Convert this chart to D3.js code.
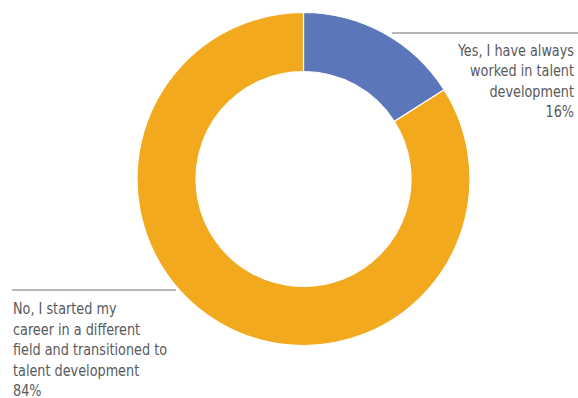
<!DOCTYPE html>
<html><head><meta charset="utf-8">
<script src="https://cdn.jsdelivr.net/npm/d3@7"></script>
<style>body{margin:0;background:#fff}svg{display:block}</style>
</head><body>
<svg id="chart" width="578" height="398"></svg>
<script>
const categories = ["Yes, I have always worked in talent development", "No, I started my career in a different field and transitioned to talent development"];
const values = [16, 84];
const colors = ["#5B77B9", "#F2A91E"];
const labelLines = [
  ["Yes, I have always", "worked in talent", "development", "16%"],
  ["No, I started my", "career in a different", "field and transitioned to", "talent development", "84%"]
];

const svg = d3.select("#chart");
const cx = 303.5, cy = 179, rOuter = 166.5, rInner = 107.5;
const pie = d3.pie().sort(null).value(d => d);
const arc = d3.arc().innerRadius(rInner).outerRadius(rOuter);
const g = svg.append("g").attr("transform", `translate(${cx},${cy})`);
g.selectAll("path").data(pie(values)).join("path")
  .attr("d", arc).attr("fill", (d, i) => colors[i])
  .attr("stroke", "#fff").attr("stroke-width", 1.2);

const font = "'DejaVu Sans Condensed','Liberation Sans Narrow',sans-serif";
const txtColor = "#58595B";
const sx = 0.865;
// leader lines
svg.append("line").attr("x1", 392).attr("x2", 578).attr("y1", 33).attr("y2", 33)
  .attr("stroke", "#6d6e70").attr("stroke-width", 1.2);
svg.append("line").attr("x1", 12).attr("x2", 176).attr("y1", 290).attr("y2", 290)
  .attr("stroke", "#6d6e70").attr("stroke-width", 1.2);

const t1 = svg.append("g").attr("transform", `translate(574,0) scale(${sx},1)`)
  .append("text").attr("font-family", font).attr("font-size", 16.5)
  .attr("fill", txtColor).attr("text-anchor", "end");
labelLines[0].forEach((s, i) => t1.append("tspan").attr("x", 0).attr("y", 56 + i * 20.3).text(s));
const t2 = svg.append("g").attr("transform", `translate(13,0) scale(${sx},1)`)
  .append("text").attr("font-family", font).attr("font-size", 16.5)
  .attr("fill", txtColor).attr("text-anchor", "start");
labelLines[1].forEach((s, i) => t2.append("tspan").attr("x", 0).attr("y", 314 + i * 20.6).text(s));
</script>
</body></html>
